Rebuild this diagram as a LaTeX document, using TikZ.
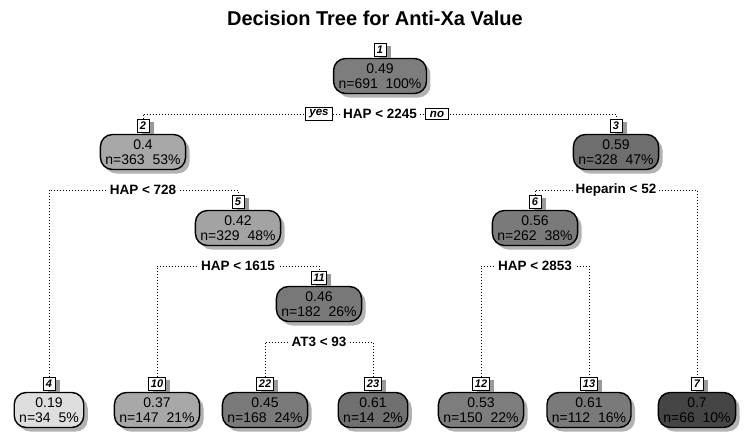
\documentclass[tikz,border=0pt]{standalone}
\usepackage{fontspec}
\setmainfont{Liberation Sans}
\usetikzlibrary{shadows,positioning,backgrounds}
\definecolor{c1}{gray}{0.49}
\definecolor{c2}{gray}{0.66}
\definecolor{c3}{gray}{0.43}
\definecolor{c4}{gray}{0.87}
\definecolor{c5}{gray}{0.64}
\definecolor{c6}{gray}{0.48}
\definecolor{c7}{gray}{0.27}
\definecolor{c10}{gray}{0.66}
\definecolor{c11}{gray}{0.47}
\definecolor{c12}{gray}{0.49}
\definecolor{c13}{gray}{0.48}
\definecolor{c22}{gray}{0.48}
\definecolor{c23}{gray}{0.44}
\begin{document}
\begin{tikzpicture}[x=1pt,y=-1pt,
  box/.style={draw=black, line width=1.4pt, rounded corners=12pt,
    minimum height=35pt, inner xsep=5pt, inner ysep=2pt, align=center,
    font=\fontsize{14}{15}\selectfont,
    drop shadow={shadow xshift=4pt, shadow yshift=-4pt, fill=black!30, opacity=1}},
  tagbox/.style={draw=black, line width=1pt, fill=white, inner xsep=2pt, inner ysep=1pt,
    minimum width=12pt, minimum height=12.5pt,
    font=\fontsize{11}{11}\selectfont\bfseries\itshape,
    drop shadow={shadow xshift=4.5pt, shadow yshift=-2pt, fill=black!40, opacity=1}},
  branch/.style={line width=1pt, dash pattern=on 1pt off 2pt},
  splitlab/.style={fill=white, inner xsep=3pt, inner ysep=1pt,
    font=\fontsize{13.5}{14}\selectfont\bfseries},
  yn/.style={draw=black, line width=1pt, fill=white, inner xsep=4pt, inner ysep=2pt,
    font=\fontsize{11.5}{11.5}\selectfont\bfseries\itshape}
]
\useasboundingbox (0,0) rectangle (750,439);

\node[font=\fontsize{20}{22}\selectfont\bfseries] (title) at (375,18) {Decision Tree for Anti-Xa Value};

% internal nodes
\node[box, fill=c1] (n1) at (380,76) {0.49\\n=691~~100\%};
\node[box, fill=c2] (n2) at (143,152) {0.4\\n=363~~53\%};
\node[box, fill=c3] (n3) at (616,152) {0.59\\n=328~~47\%};
\node[box, fill=c5] (n5) at (238,228) {0.42\\n=329~~48\%};
\node[box, fill=c6] (n6) at (535,228) {0.56\\n=262~~38\%};
\node[box, fill=c11] (n11) at (319,304) {0.46\\n=182~~26\%};
% leaves
\node[box, fill=c4] (n4) at (49,410) {0.19\\n=34~~5\%};
\node[box, fill=c10] (n10) at (157,410) {0.37\\n=147~~21\%};
\node[box, fill=c22] (n22) at (265,410) {0.45\\n=168~~24\%};
\node[box, fill=c23] (n23) at (373,410) {0.61\\n=14~~2\%};
\node[box, fill=c12] (n12) at (481,410) {0.53\\n=150~~22\%};
\node[box, fill=c13] (n13) at (589,410) {0.61\\n=112~~16\%};
\node[box, fill=c7] (n7) at (697,410) {0.7\\n=66~~10\%};

% tags
\node[tagbox, above=1pt of n1] (t1) {1};
\node[tagbox, above=1pt of n2] (t2) {2};
\node[tagbox, above=1pt of n3] (t3) {3};
\node[tagbox, above=1pt of n5] (t5) {5};
\node[tagbox, above=1pt of n6] (t6) {6};
\node[tagbox, above=1pt of n11] (t11) {11};
\node[tagbox, above=1pt of n4] (t4) {4};
\node[tagbox, above=1pt of n10] (t10) {10};
\node[tagbox, above=1pt of n22] (t22) {22};
\node[tagbox, above=1pt of n23] (t23) {23};
\node[tagbox, above=1pt of n12] (t12) {12};
\node[tagbox, above=1pt of n13] (t13) {13};
\node[tagbox, above=1pt of n7] (t7) {7};

% split labels
\node[splitlab] (s1) at (380,114) {HAP < 2245};
\node[yn] (yes) at (319,114) {yes};
\node[yn] (no) at (437,114) {no};
\node[splitlab] (s2) at (143,190) {HAP < 728};
\node[splitlab] (s3) at (616,190) {Heparin < 52};
\node[splitlab] (s5) at (238,266) {HAP < 1615};
\node[splitlab] (s6) at (535,266) {HAP < 2853};
\node[splitlab] (s11) at (319,342) {AT3 < 93};

\begin{pgfonlayer}{background}
\fill[white] (0,0) rectangle (750,439);
\draw[branch] (t2.north) |- (s1.center) -| (t3.north);
\draw[branch] (t4.north) |- (s2.center) -| (t5.north);
\draw[branch] (t6.north) |- (s3.center) -| (t7.north);
\draw[branch] (t10.north) |- (s5.center) -| (t11.north);
\draw[branch] (t12.north) |- (s6.center) -| (t13.north);
\draw[branch] (t22.north) |- (s11.center) -| (t23.north);
\end{pgfonlayer}
\end{tikzpicture}
\end{document}
